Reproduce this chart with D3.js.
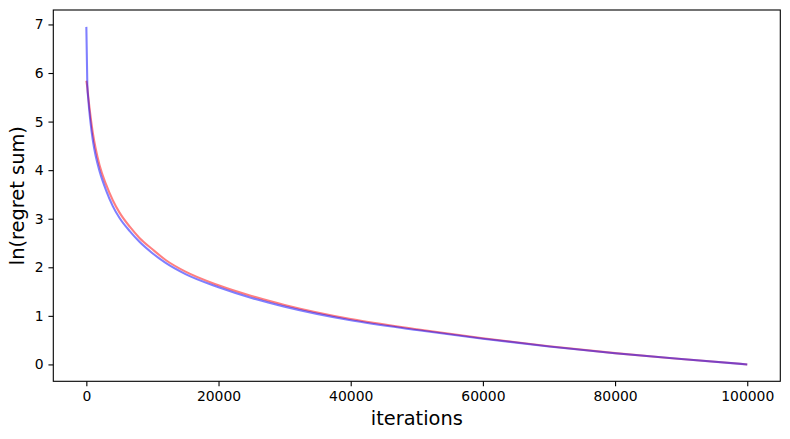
<!DOCTYPE html>
<html>
<head>
    <meta charset="UTF-8">
    <title>ln(regret sum)</title>
    <script src="https://d3js.org/d3.v7.min.js"></script>
    <style>
        body {
            margin: 0;
            background: white;
        }

        text {
            font-family: "DejaVu Sans", sans-serif;
        }

        .tick text {
            font-size: 13.9px;
            fill: #000;
        }
    </style>
</head>
<body>
    <div id="chart"></div>
    <script>
        // iterazioni e valori
        var iterations = [0, 150, 300, 600, 1000, 1400, 2000, 3000, 4000, 5000, 6600, 8000, 10000, 12000, 15000,
            20000, 25000, 30000, 40000, 50000, 60000, 70000, 80000, 90000, 100000];
        var valBlue = [6.95, 5.75, 5.45, 5.02, 4.6, 4.3, 3.98, 3.58, 3.26, 3.02, 2.74, 2.53, 2.29, 2.09, 1.86,
            1.59, 1.37, 1.19, 0.91, 0.71, 0.53, 0.37, 0.23, 0.11, 0];
        var valRed = [5.84, 5.7, 5.5, 5.15, 4.75, 4.45, 4.1, 3.7, 3.38, 3.13, 2.83, 2.61, 2.37, 2.15, 1.91,
            1.63, 1.41, 1.225, 0.935, 0.725, 0.54, 0.375, 0.232, 0.112, 0];

        var xTicks = [0, 20000, 40000, 60000, 80000, 100000];
        var yTicks = [0, 1, 2, 3, 4, 5, 6, 7];

        var width = 790;
        var height = 439;
        var plot = { left: 53.3, right: 780.3, top: 10, bottom: 381.3 };

        var blue = iterations.map(function (d, i) { return { x: d, y: valBlue[i] }; });
        var red = iterations.map(function (d, i) { return { x: d, y: valRed[i] }; });
        var all = blue.concat(red);

        // margini del 5% come matplotlib
        var xExt = d3.extent(all, function (d) { return d.x; });
        var yExt = d3.extent(all, function (d) { return d.y; });
        var xPad = (xExt[1] - xExt[0]) * 0.05;
        var yPad = (yExt[1] - yExt[0]) * 0.05;

        var xScale = d3.scaleLinear()
            .domain([xExt[0] - xPad, xExt[1] + xPad])
            .range([plot.left, plot.right]);

        var yScale = d3.scaleLinear()
            .domain([yExt[0] - yPad, yExt[1] + yPad])
            .range([plot.bottom, plot.top]);

        var svg = d3.select("#chart")
            .append("svg")
            .attr("width", width)
            .attr("height", height);

        var line = d3.line()
            .x(function (d) { return xScale(d.x); })
            .y(function (d) { return yScale(d.y); })
            .curve(d3.curveMonotoneX);

        svg.append("path")
            .datum(red)
            .attr("d", line)
            .attr("fill", "none")
            .attr("stroke", "red")
            .attr("stroke-opacity", 0.5)
            .attr("stroke-width", 2.08);

        svg.append("path")
            .datum(blue)
            .attr("d", line)
            .attr("fill", "none")
            .attr("stroke", "blue")
            .attr("stroke-opacity", 0.5)
            .attr("stroke-width", 2.08);

        // assi
        var xAxis = d3.axisBottom(xScale)
            .tickValues(xTicks)
            .tickFormat(d3.format("d"))
            .tickSize(4.86)
            .tickPadding(4.86);

        var yAxis = d3.axisLeft(yScale)
            .tickValues(yTicks)
            .tickFormat(d3.format("d"))
            .tickSize(4.86)
            .tickPadding(4.86);

        var gx = svg.append("g")
            .attr("transform", "translate(0," + plot.bottom + ")")
            .call(xAxis);
        gx.select(".domain").remove();
        gx.selectAll("line").attr("stroke", "#000").attr("stroke-width", 1.1);

        var gy = svg.append("g")
            .attr("transform", "translate(" + plot.left + ",0)")
            .call(yAxis);
        gy.select(".domain").remove();
        gy.selectAll("line").attr("stroke", "#000").attr("stroke-width", 1.1);

        // cornice
        svg.append("rect")
            .attr("x", plot.left)
            .attr("y", plot.top)
            .attr("width", plot.right - plot.left)
            .attr("height", plot.bottom - plot.top)
            .attr("fill", "none")
            .attr("stroke", "#000")
            .attr("stroke-width", 1.1);

        svg.append("text")
            .attr("x", (plot.left + plot.right) / 2)
            .attr("y", 425)
            .attr("text-anchor", "middle")
            .style("font-size", "19.4px")
            .text("iterations");

        svg.append("text")
            .attr("transform", "translate(24," + ((plot.top + plot.bottom) / 2) + ") rotate(-90)")
            .attr("text-anchor", "middle")
            .style("font-size", "19.4px")
            .text("ln(regret sum)");
    </script>
</body>
</html>
